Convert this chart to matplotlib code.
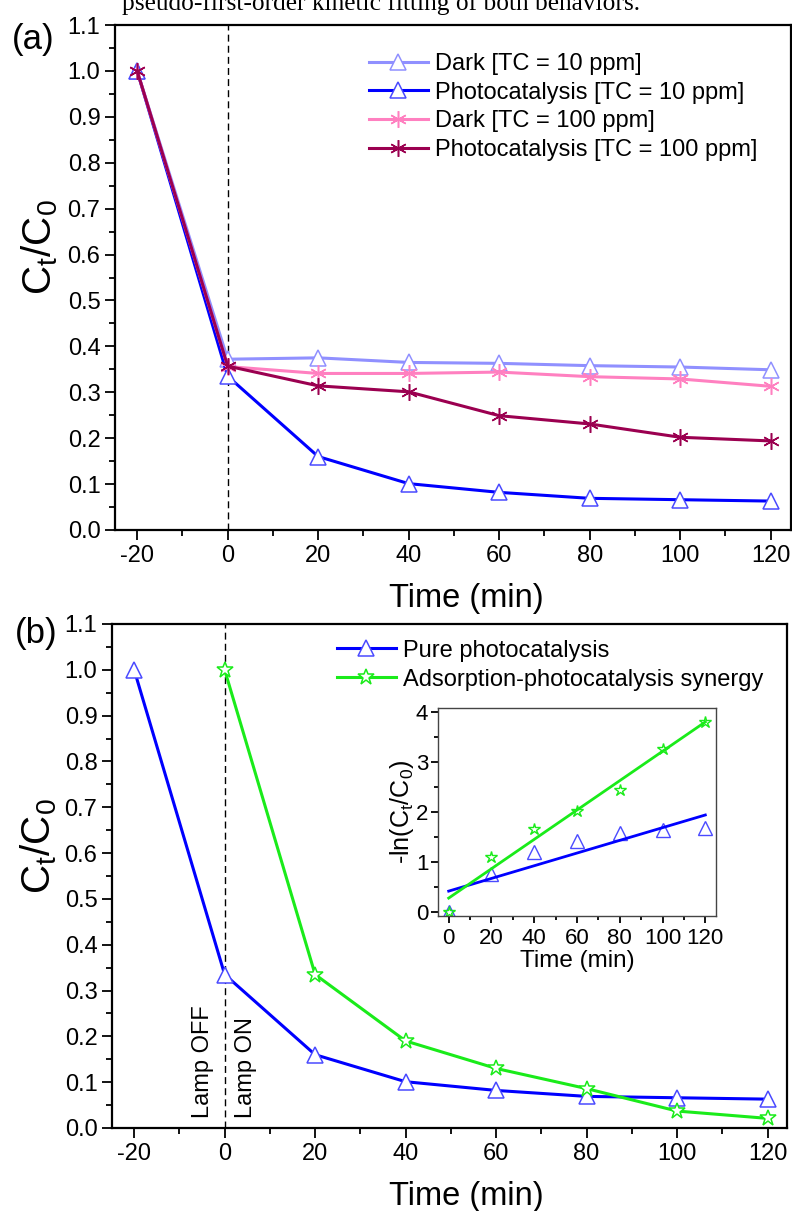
import numpy as np
import matplotlib
matplotlib.use("Agg")
import matplotlib.pyplot as plt
from matplotlib.ticker import MultipleLocator

plt.rcParams["font.family"] = ["Liberation Sans", "DejaVu Sans"]
plt.rcParams["mathtext.fontset"] = "custom"
plt.rcParams["mathtext.rm"] = "Liberation Sans"
plt.rcParams["mathtext.it"] = "Liberation Sans:italic"
plt.rcParams["axes.unicode_minus"] = False

# data
time = [-20, 0, 20, 40, 60, 80, 100, 120]
dark_10 = [1.0, 0.372, 0.375, 0.365, 0.363, 0.358, 0.355, 0.349]
photo_10 = [1.0, 0.335, 0.160, 0.101, 0.082, 0.069, 0.066, 0.063]
dark_100 = [1.0, 0.356, 0.341, 0.341, 0.344, 0.334, 0.329, 0.313]
photo_100 = [1.0, 0.357, 0.314, 0.301, 0.249, 0.231, 0.202, 0.194]

time_syn = [0, 20, 40, 60, 80, 100, 120]
synergy = [1.0, 0.335, 0.190, 0.130, 0.086, 0.037, 0.021]

inset_time = [0, 20, 40, 60, 80, 100, 120]
ln_pure = [0.0, 0.75, 1.20, 1.42, 1.58, 1.63, 1.67]
ln_syn = [0.0, 1.09, 1.65, 2.03, 2.45, 3.26, 3.80]
fit_time = [0, 120]
fit_pure = [0.41, 1.94]
fit_syn = [0.27, 3.81]

c_dark10 = "#9090ff"
c_photo10 = "#0000ff"
c_dark100 = "#ff80c0"
c_photo100 = "#9b0050"
c_green = "#1aeb1a"

fig = plt.figure(figsize=(7.92, 12.11), dpi=100)
ax1 = fig.add_axes([115/792, 1-530/1211, 676/792, 505/1211])
ax2 = fig.add_axes([112/792, 1-1128/1211, 675/792, 504/1211])
ins = fig.add_axes([438/792, 1-916/1211, 278/792, 208/1211])


def style_axis(ax, fs=17, lw=1.6, big=7, small=4):
    for s in ax.spines.values():
        s.set_linewidth(lw)
    ax.tick_params(which="major", direction="out", length=big, width=1.3,
                   labelsize=fs, top=False, right=False)
    ax.tick_params(which="minor", direction="out", length=small, width=1.3,
                   top=False, right=False)


ylab = r"C$_\mathregular{t}$/C$_\mathregular{0}$"

# panel (a)
tri = dict(marker="^", markersize=12, markerfacecolor="white", markeredgewidth=1.1)
ast = dict(marker=(6, 2, 0), markersize=12, markeredgewidth=1.1)
ax1.plot(time, dark_10, color=c_dark10, lw=2.2, markeredgecolor=c_dark10,
         label="Dark [TC = 10 ppm]", **tri)
ax1.plot(time, photo_10, color=c_photo10, lw=2.2, markeredgecolor="#4a4aff",
         label="Photocatalysis [TC = 10 ppm]", **tri)
ax1.plot(time, dark_100, color=c_dark100, lw=2.2, markeredgecolor=c_dark100,
         label="Dark [TC = 100 ppm]", **ast)
ax1.plot(time, photo_100, color=c_photo100, lw=2.2, markeredgecolor=c_photo100,
         label="Photocatalysis [TC = 100 ppm]", **ast)
ax1.axvline(0, color="k", lw=1, ls=(0, (5, 3)), zorder=0)
ax1.set_xlim(-24.9, 124.5)
ax1.set_ylim(0, 1.1)
ax1.xaxis.set_major_locator(MultipleLocator(20))
ax1.xaxis.set_minor_locator(MultipleLocator(10))
ax1.yaxis.set_major_locator(MultipleLocator(0.1))
ax1.yaxis.set_minor_locator(MultipleLocator(0.05))
ax1.yaxis.set_major_formatter(lambda v, p: f"{v:.1f}")
style_axis(ax1)
ax1.set_xlabel("Time (min)", fontsize=23.5, labelpad=12)
ax1.xaxis.label.set_x(0.519)
ax1.set_ylabel(ylab, fontsize=29)
ax1.yaxis.set_label_coords(-0.082, 0.56)
ax1.legend(loc="upper left", bbox_to_anchor=(0.375, 0.945), frameon=False,
           fontsize=17, handlelength=2.5, handletextpad=0.3, labelspacing=0.29,
           borderpad=0, borderaxespad=0)

# panel (b)
ax2.plot(time, photo_10, color=c_photo10, lw=2.2, markeredgecolor="#4a4aff",
         label="Pure photocatalysis", **tri)
ax2.plot(time_syn, synergy, color=c_green, lw=2.2, marker="*", markersize=12,
         markerfacecolor="white", markeredgecolor=c_green, markeredgewidth=1.1,
         label="Adsorption-photocatalysis synergy")
ax2.axvline(0, color="k", lw=1, ls=(0, (5, 3)), zorder=0)
ax2.set_xlim(-24.9, 124.3)
ax2.set_ylim(0, 1.1)
ax2.xaxis.set_major_locator(MultipleLocator(20))
ax2.xaxis.set_minor_locator(MultipleLocator(10))
ax2.yaxis.set_major_locator(MultipleLocator(0.1))
ax2.yaxis.set_minor_locator(MultipleLocator(0.05))
ax2.yaxis.set_major_formatter(lambda v, p: f"{v:.1f}")
style_axis(ax2)
ax2.set_xlabel("Time (min)", fontsize=23.5, labelpad=12)
ax2.xaxis.label.set_x(0.525)
ax2.set_ylabel(ylab, fontsize=29)
ax2.yaxis.set_label_coords(-0.078, 0.56)
ax2.legend(loc="upper left", bbox_to_anchor=(0.333, 0.969), frameon=False,
           fontsize=17, handlelength=2.5, handletextpad=0.3, labelspacing=0.3,
           borderpad=0, borderaxespad=0)
ax2.text(-2.4, 0.022, "Lamp OFF", rotation=90, ha="right", va="bottom", fontsize=17)
ax2.text(2.2, 0.022, "Lamp ON", rotation=90, ha="left", va="bottom", fontsize=17)

# inset
ins.plot(inset_time, ln_pure, ls="none", marker="^", markersize=10,
         markerfacecolor="none", markeredgecolor="#4a4aff", markeredgewidth=1)
ins.plot(inset_time, ln_syn, ls="none", marker="*", markersize=9,
         markerfacecolor="none", markeredgecolor=c_green, markeredgewidth=1)
ins.plot(fit_time, fit_pure, color=c_photo10, lw=2)
ins.plot(fit_time, fit_syn, color=c_green, lw=2)
ins.set_xlim(-5, 125)
ins.set_ylim(-0.09, 4.09)
ins.xaxis.set_major_locator(MultipleLocator(20))
ins.xaxis.set_minor_locator(MultipleLocator(10))
ins.yaxis.set_major_locator(MultipleLocator(1))
ins.yaxis.set_minor_locator(MultipleLocator(0.5))
style_axis(ins, fs=16, lw=1.0, big=5, small=3)
ins.tick_params(axis="y", which="major", pad=2)
for s in ins.spines.values():
    s.set_color("#444444")
ins.set_xlabel("Time (min)", fontsize=17.5, labelpad=1)
ins.set_ylabel(r"-ln(C$_\mathregular{t}$/C$_\mathregular{0}$)", fontsize=18, labelpad=0)

# panel letters and cut-off caption
fig.text(12/792, 1-40/1211, "(a)", fontsize=25, va="center", ha="left")
fig.text(15/792, 1-633/1211, "(b)", fontsize=25, va="center", ha="left")
fig.text(381/792, 1-10/1211, "pseudo-first-order kinetic fitting of both behaviors.",
         family="Liberation Serif", fontsize=18.3, ha="center", va="baseline")

fig.savefig("out.png", dpi=100)
